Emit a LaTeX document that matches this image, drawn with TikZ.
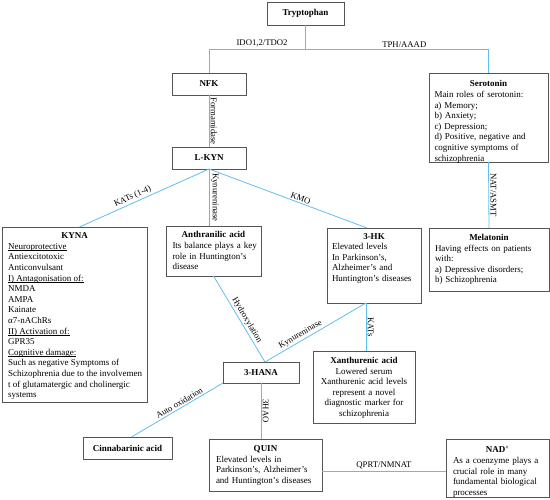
\documentclass[tikz,border=0pt]{standalone}
\usepackage{fontspec}
\setmainfont{Liberation Serif}
\definecolor{connc}{RGB}{95,190,235}
\definecolor{bord}{RGB}{85,85,85}
\tikzset{
  box/.style={draw=bord, line width=0.8pt, anchor=north west, inner sep=0pt, outer sep=0pt},
  txt/.style={font=\fontsize{9}{10.6}\selectfont, inner sep=0pt, anchor=north},
  conn/.style={draw=connc, line width=0.8pt},
  lab/.style={font=\fontsize{8.7}{10.6}\selectfont, inner sep=1.5pt},
}
\newcommand\ttl[1]{\makebox[\linewidth]{\textbf{#1}}}
\newcommand\jl[1]{\makebox[\linewidth][s]{#1}}
\newcommand\ulx[1]{\underline{\smash{#1}}}
\begin{document}
\begin{tikzpicture}[x=1pt,y=-1pt]
\useasboundingbox (0,0) rectangle (550,500);
% boxes
\node[box, minimum width=77pt, minimum height=23pt] (tryp) at (267,2) {};
\node[txt, anchor=center] (trypt) at (tryp.center) {\textbf{Tryptophan}};
\node[box, minimum width=74pt, minimum height=22pt] (nfk) at (172,73) {};
\node[txt, anchor=center] (nfkt) at (nfk.center) {\textbf{NFK}};
\node[box, minimum width=74pt, minimum height=22pt] (lkyn) at (172,147) {};
\node[txt, anchor=center] (lkynt) at (lkyn.center) {\textbf{L-KYN}};
\node[box, minimum width=119pt, minimum height=89pt] (sero) at (429,73) {};
\node[txt, text width=108pt, align=left] (serot) at ([yshift=-7.5pt]sero.north) {\ttl{Serotonin}\\Main roles of serotonin:\\a) Memory;\\b) Anxiety;\\c) Depression;\\d) Positive, negative and\\cognitive symptoms of\\schizophrenia};
\node[box, minimum width=120pt, minimum height=63pt] (mela) at (429,228) {};
\node[txt, text width=108pt, align=left] (melat) at ([yshift=-6pt]mela.north) {\ttl{Melatonin}\\Having effects on patients\\with:\\a) Depressive disorders;\\b) Schizophrenia};
\node[box, minimum width=145pt, minimum height=175pt] (kyna) at (2,227) {};
\node[txt, align=left, anchor=north west] (kynat) at ([xshift=6pt, yshift=-5.5pt]kyna.north west) {\makebox[133pt]{\textbf{KYNA}}\\\ulx{Neuroprotective}\\Antiexcitotoxic\\Anticonvulsant\\\ulx{I) Antagonisation of:}\\NMDA\\AMPA\\Kainate\\α7-nAChRs\\\ulx{II) Activation of:}\\GPR35\\\ulx{Cognitive damage:}\\Such as negative Symptoms of\\Schizophrenia due to the involvemen\\t of glutamatergic and cholinergic\\systems};
\node[box, minimum width=95pt, minimum height=50pt] (anth) at (166,226) {};
\node[txt, text width=82pt, align=left] (antht) at ([yshift=-5.5pt]anth.north) {\ttl{Anthranilic acid}\\\jl{Its balance plays a key}\\\jl{role in Huntington’s}\\disease};
\node[box, minimum width=94pt, minimum height=75pt] (hk) at (327,228) {};
\node[txt, text width=84pt, align=left] (hkt) at ([yshift=-5pt]hk.north) {\ttl{3-HK}\\Elevated levels\\In Parkinson’s,\\Alzheimer’s and\\Huntington’s diseases};
\node[box, minimum width=76pt, minimum height=21pt] (hana) at (223,362) {};
\node[txt, anchor=center] (hanat) at (hana.center) {\textbf{3-HANA}};
\node[box, minimum width=102pt, minimum height=72pt] (xan) at (313,351) {};
\node[txt, text width=100pt, align=center] (xant) at ([yshift=-6pt]xan.north) {\textbf{Xanthurenic acid}\\Lowered serum\\Xanthurenic acid levels\\represent a novel\\diagnostic marker for\\schizophrenia};
\node[box, minimum width=89pt, minimum height=22pt] (cinn) at (83,437) {};
\node[txt, anchor=center] (cinnt) at (cinn.center) {\textbf{Cinnabarinic acid}};
\node[box, minimum width=113pt, minimum height=52pt] (quin) at (209,439) {};
\node[txt, text width=99pt, align=left] (quint) at ([yshift=-6.5pt]quin.north) {\ttl{QUIN}\\\jl{Elevated levels in}\\\jl{Parkinson’s, Alzheimer’s}\\and Huntington’s diseases};
\node[box, minimum width=103pt, minimum height=58pt] (nad) at (446,439) {};
\node[txt, text width=89pt, align=left] (nadt) at ([yshift=-6.5pt]nad.north) {\ttl{NAD\textsuperscript{+}}\\\jl{As a coenzyme plays a}\\\jl{crucial role in many}\\\jl{fundamental biological}\\processes};
% connectors
\coordinate (split) at (tryp.south |- 0,49);
\draw[conn] (tryp.south) -- (split);
\draw[conn] (split) -- (nfk.north |- split) node[lab, pos=0.45, above] {IDO1,2/TDO2} -- (nfk.north);
\draw[conn] (split) -- (sero.north |- split) node[lab, pos=0.54, above] {TPH/AAAD} -- (sero.north);
\draw[conn] (nfk.south) -- (lkyn.north) node[lab, midway, rotate=-90, anchor=south] {Formamidase};
\draw[conn] (sero.south) -- (mela.north) node[lab, midway, rotate=-90, anchor=south] {NAT/ASMT};
\draw[conn] (lkyn.south) -- ([xshift=5pt]kyna.north) node[lab, pos=0.57, sloped, above] {KATs (1-4)};
\draw[conn] (lkyn.south) -- (lkyn.south |- anth.north) node[lab, midway, rotate=-90, anchor=south] {Kynureninase};
\draw[conn] (lkyn.south) -- ([xshift=-7pt]hk.north) node[lab, pos=0.57, sloped, above] {KMO};
\draw[conn] (anth.south) -- ([xshift=4pt]hana.north) node[lab, pos=0.55, sloped, above] {Hydroxylation};
\draw[conn] ([xshift=-8pt]hk.south) -- ([xshift=4pt]hana.north) node[lab, pos=0.62, sloped, above] {Kynureninase};
\draw[conn] ([xshift=-8pt]hk.south) -- ([xshift=-8pt]hk.south |- xan.north) node[lab, midway, rotate=-90, anchor=south] {KATs};
\draw[conn] (hana.south west) -- ([xshift=4pt]cinn.north) node[lab, pos=0.45, sloped, above] {Auto oxidation};
\draw[conn] (hana.south) -- (hana.south |- quin.north) node[lab, midway, rotate=-90, anchor=south] {3HAO};
\draw[conn] (quin.east |- 0,471) -- (nad.west |- 0,471) node[lab, midway, above] {QPRT/NMNAT};
\end{tikzpicture}
\end{document}
